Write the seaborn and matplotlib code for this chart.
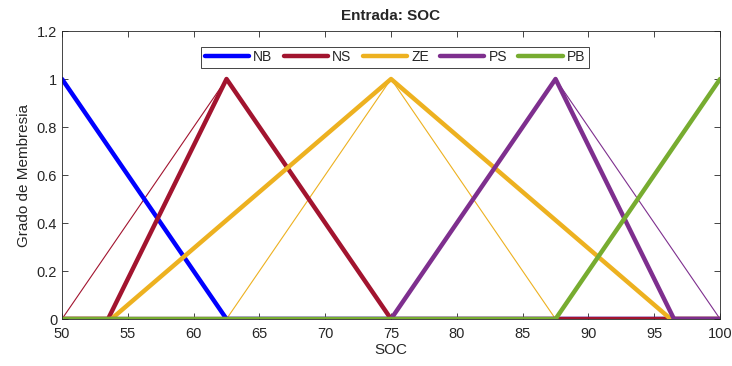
import pandas as pd
import matplotlib
matplotlib.use("Agg")
import matplotlib.pyplot as plt
import seaborn as sns

# funciones de membresia (ajustadas, trazo grueso)
x_nb = [50, 62.5, 100]
y_nb = [1, 0, 0]
x_ns = [50, 53.5, 62.5, 75, 100]
y_ns = [0, 0, 1, 0, 0]
x_ze = [50, 53.75, 75, 96.25, 100]
y_ze = [0, 0, 1, 0, 0]
x_ps = [50, 75, 87.5, 96.5, 100]
y_ps = [0, 0, 1, 0, 0]
x_pb = [50, 87.5, 100]
y_pb = [0, 0, 1]

# funciones originales (trazo fino)
x_ns0 = [50, 62.5, 75]
y_ns0 = [0, 1, 0]
x_ze0 = [62.5, 75, 87.5]
y_ze0 = [0, 1, 0]
x_ps0 = [75, 87.5, 100]
y_ps0 = [0, 1, 0]

labels = ["NB", "NS", "ZE", "PS", "PB"]
colores = ["#0000ff", "#a2142f", "#edb120", "#7e2f8e", "#77ac30"]

sns.set_theme(style="ticks")
plt.rcParams['font.family'] = ['Liberation Sans', 'DejaVu Sans']
plt.rcParams['xtick.direction'] = 'in'
plt.rcParams['ytick.direction'] = 'in'

fig = plt.figure(figsize=(7.32, 3.66), dpi=100)
ax = fig.add_axes([0.0847, 0.1284, 0.899, 0.7869])

# lineas finas
for xs, ys, c in [(x_ns0, y_ns0, colores[1]), (x_ze0, y_ze0, colores[2]), (x_ps0, y_ps0, colores[3])]:
    df0 = pd.DataFrame({"x": xs, "y": ys})
    sns.lineplot(data=df0, x="x", y="y", sort=False, color=c, lw=0.8, ax=ax)

# lineas gruesas
series = [(x_nb, y_nb), (x_ns, y_ns), (x_ze, y_ze), (x_ps, y_ps), (x_pb, y_pb)]
for (xs, ys), lab, c in zip(series, labels, colores):
    df = pd.DataFrame({"x": xs, "y": ys})
    sns.lineplot(data=df, x="x", y="y", sort=False, color=c, lw=3.2, label=lab, ax=ax)

ax.set_xlim(50, 100)
ax.set_ylim(0, 1.2)
ax.set_xticks(range(50, 101, 5))
ax.set_yticks([0, 0.2, 0.4, 0.6, 0.8, 1, 1.2])
ax.set_yticklabels(["0", "0.2", "0.4", "0.6", "0.8", "1", "1.2"])
ax.tick_params(top=True, right=True, labelsize=10.5, colors="#262626", length=4, width=0.6)
ax.tick_params(axis="x", pad=6)
for s in ax.spines.values():
    s.set_color("#262626")
    s.set_linewidth(0.6)

ax.set_title("Entrada: SOC", fontsize=11, fontweight="bold", pad=8)
ax.set_xlabel("SOC", fontsize=11, color="#262626", labelpad=1)
ax.set_ylabel("Grado de Membresia", fontsize=11, color="#262626")

leg = ax.legend(loc="upper center", bbox_to_anchor=(0.506, 0.945), ncol=5, frameon=True,
                fancybox=False, edgecolor="#262626", framealpha=1, fontsize=10,
                handlelength=3.2, columnspacing=0.8, handletextpad=0.3,
                borderpad=0.25, borderaxespad=0)
leg.get_frame().set_linewidth(0.6)

fig.savefig("out.png", dpi=100)
